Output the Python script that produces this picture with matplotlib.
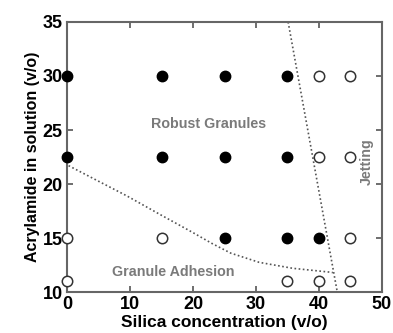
import matplotlib
matplotlib.use("Agg")
import matplotlib.pyplot as plt

plt.rcParams['font.family'] = ['Liberation Sans', 'DejaVu Sans']
plt.rcParams['font.weight'] = 'bold'

# Data
filled_x = [0, 15, 25, 35, 0, 15, 25, 35, 25, 35, 40]
filled_y = [30, 30, 30, 30, 22.5, 22.5, 22.5, 22.5, 15, 15, 15]
open_x = [40, 45, 40, 45, 0, 15, 45, 0, 35, 40, 45]
open_y = [30, 30, 22.5, 22.5, 15, 15, 15, 11, 11, 11, 11]

adh_x = [0.25, 4.2, 9.5, 14.7, 20, 23, 26, 30.5, 35.8, 41.6, 42.2]
adh_y = [21.7, 20.5, 18.9, 17.2, 15.5, 14.5, 13.6, 12.75, 12.2, 11.85, 11.8]
jet_x = [35.1, 42.9]
jet_y = [35, 10]

xticks = [0, 10, 20, 30, 40, 50]
yticks = [10, 15, 20, 25, 30, 35]

fig = plt.figure(figsize=(3.93, 3.33), dpi=100)
ax = fig.add_axes([0.1705, 0.123, 0.8015, 0.811])

ax.plot(adh_x, adh_y, linestyle=(0, (1, 1.5)), color='#555555', lw=1.2)
ax.plot(jet_x, jet_y, linestyle=(0, (1, 1.5)), color='#555555', lw=1.2)

ax.plot(filled_x, filled_y, 'o', ms=7.5, mfc='black', mec='black', clip_on=False, zorder=3)
ax.plot(open_x, open_y, 'o', ms=7.5, mfc='white', mec='#333333', mew=1.1, clip_on=False, zorder=3)

ax.text(22.5, 25.6, 'Robust Granules', color='#7a7a7a', fontsize=10.3, fontweight='bold',
        ha='center', va='center')
ax.text(16.8, 11.9, 'Granule Adhesion', color='#7a7a7a', fontsize=10.3, fontweight='bold',
        ha='center', va='center')
ax.text(47.6, 22.1, 'Jetting', color='#7a7a7a', fontsize=10.3, fontweight='bold',
        ha='center', va='center', rotation=90)

ax.set_xlim(0, 50)
ax.set_ylim(10, 35)
ax.set_xticks(xticks)
ax.set_yticks(yticks)
ax.tick_params(direction='in', top=True, right=True, length=4, width=1.2,
               color='#555555', labelsize=13, pad=3)
for lab in ax.get_xticklabels() + ax.get_yticklabels():
    lab.set_fontweight('bold')
for s in ax.spines.values():
    s.set_color('#666666')
    s.set_linewidth(1.5)

ax.set_xlabel('Silica concentration (v/o)', fontsize=12.5, fontweight='bold', labelpad=1)
ax.set_ylabel('Acrylamide in solution (v/o)', fontsize=11.5, fontweight='bold', labelpad=2)

fig.savefig('out.png', dpi=100)
